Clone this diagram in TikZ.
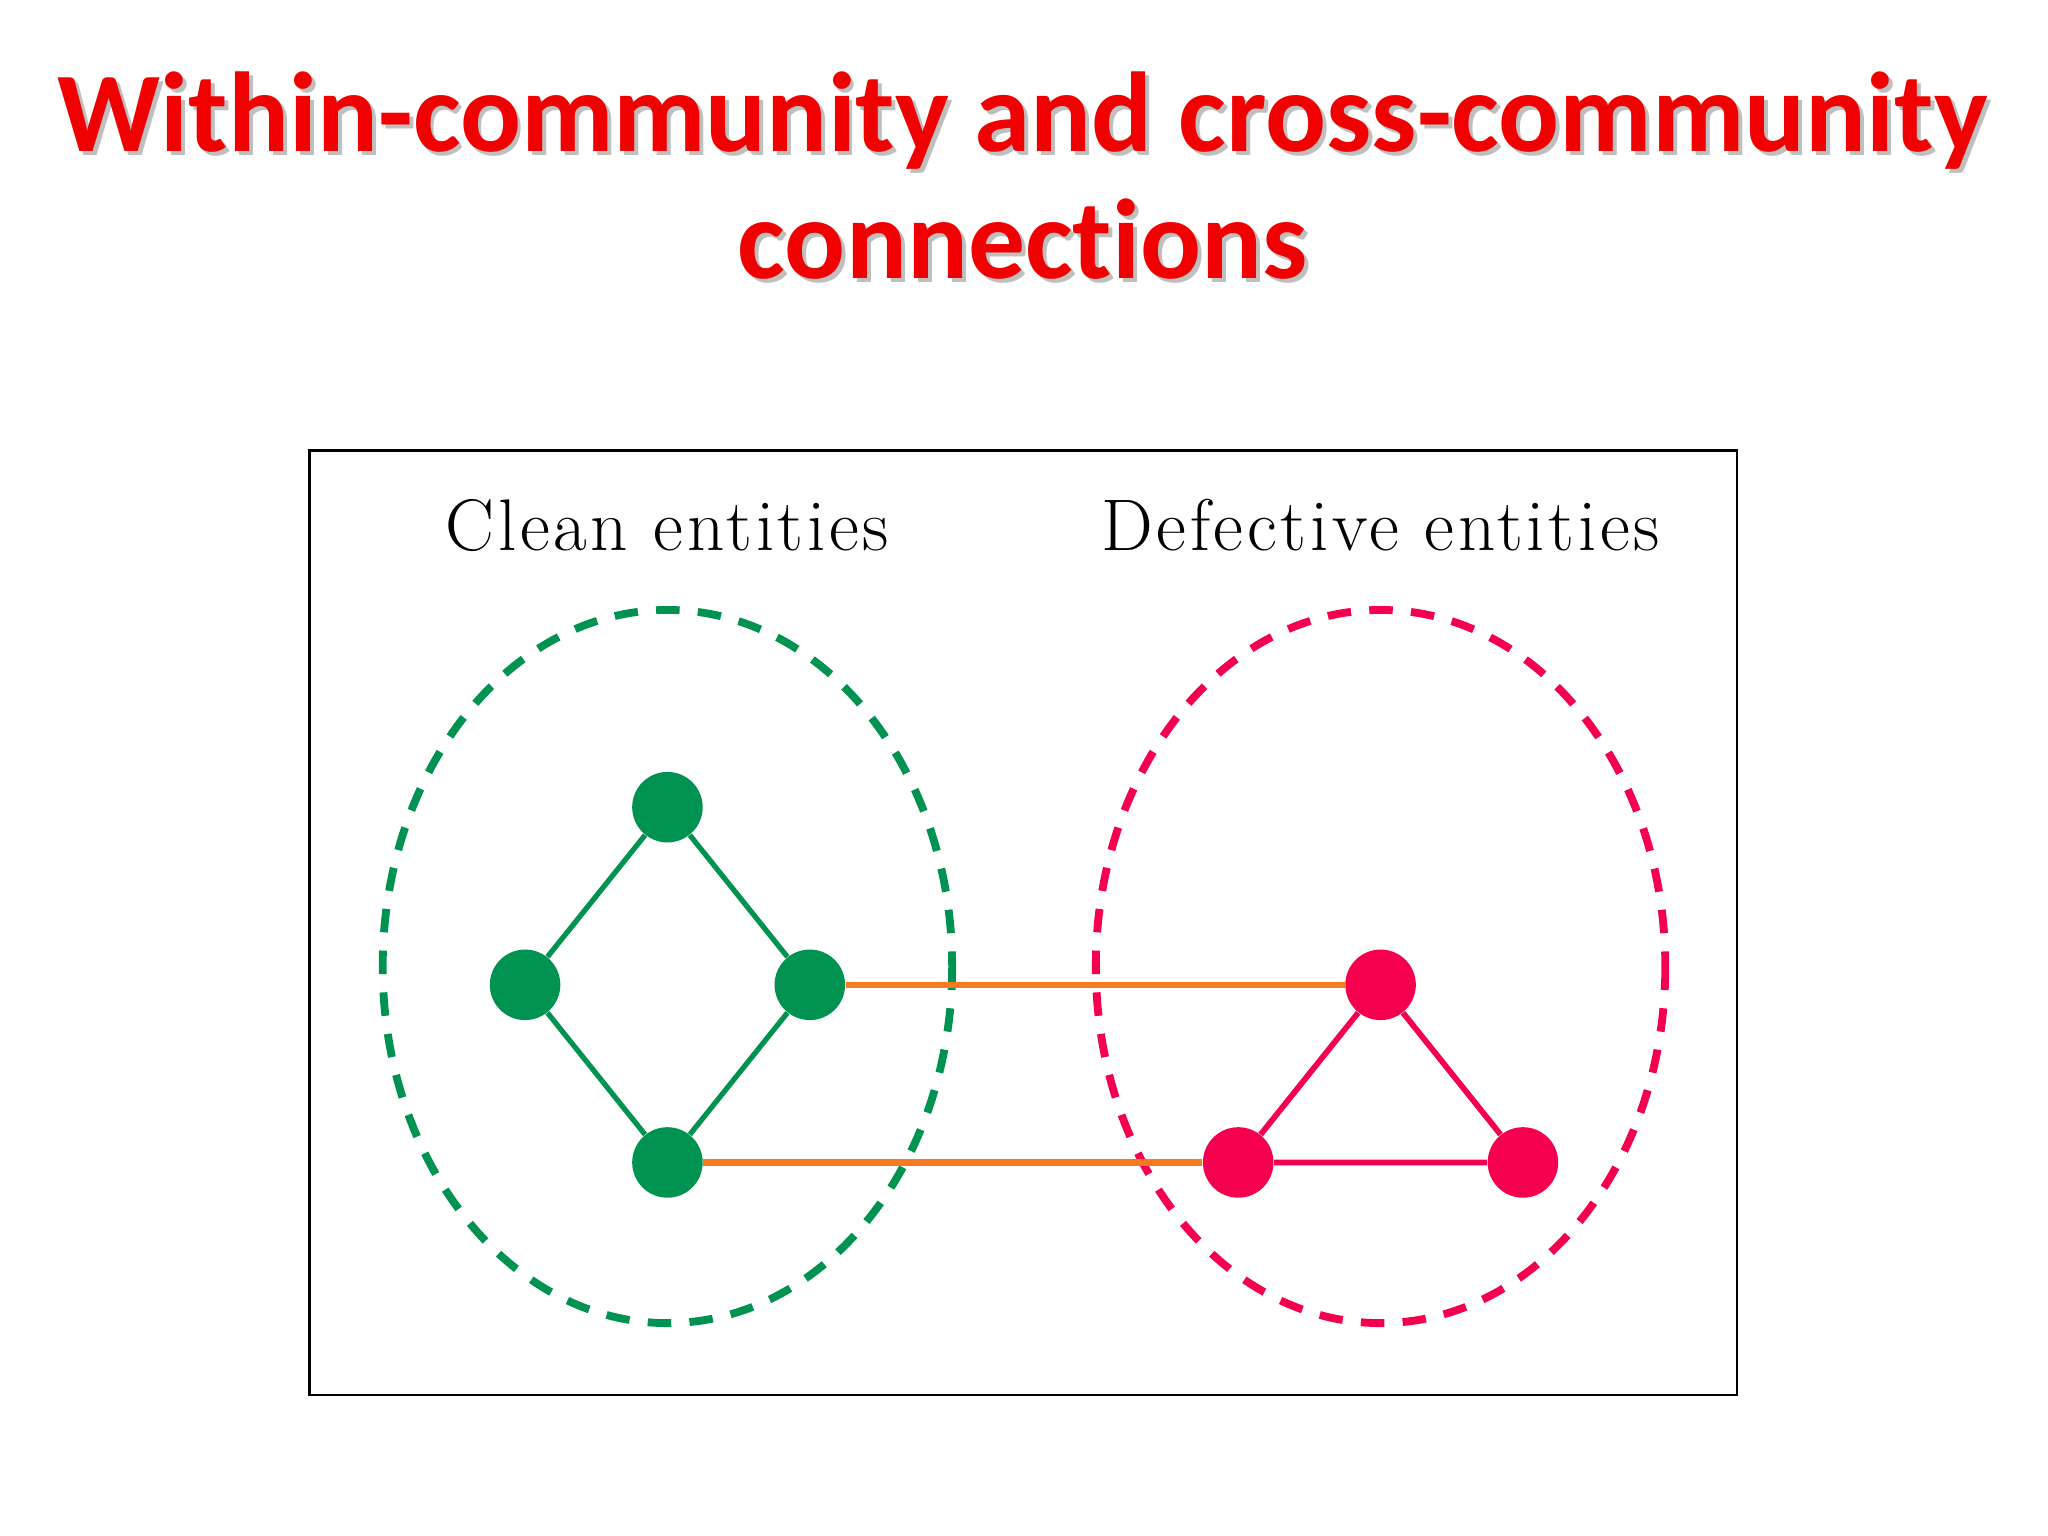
\documentclass[tikz,border=0pt]{standalone}
\usepackage{fontspec}
\newfontfamily\titlefont{Carlito}[Ligatures=NoCommon]
\newfontfamily\lblfont{Latin Modern Roman}[LetterSpace=5]
\definecolor{gr}{HTML}{009250}
\definecolor{rd}{HTML}{F5004F}
\definecolor{orng}{HTML}{F47B20}
\definecolor{ttl}{HTML}{F00000}
\begin{document}
\begin{tikzpicture}[x=0.5pt,y=-0.5pt,
  gnode/.style={circle,fill=gr,minimum size=27pt,inner sep=0pt},
  rnode/.style={circle,fill=rd,minimum size=27pt,inner sep=0pt},
  ttext/.style={font=\titlefont\bfseries\fontsize{43.5}{50}\selectfont},
  lbl/.style={font=\lblfont\fontsize{28}{32}\selectfont}]
\useasboundingbox (0,0) rectangle (1568,1176);
\foreach \t/\y in {{Within-community and cross-community}/92,{connections}/183}{
  \node[ttext,text=black!25] at (786,\y+3) {\t};
  \node[ttext,text=ttl] (t\y) at (783,\y) {\t};}
\draw[line width=1pt] (237,345) rectangle (1330,1068);
\node[lbl] (lc) at (511,402) {Clean entities};
\node[lbl] (ld) at (1057,402) {Defective entities};
\draw[gr,line width=3pt,dash pattern=on 9pt off 7pt] (511,740) ellipse [x radius=218,y radius=273];
\draw[rd,line width=3pt,dash pattern=on 9pt off 7pt] (1057,740) ellipse [x radius=218,y radius=273];
\node[gnode] (g1) at (511,618) {};
\node[gnode] (g2) at (402,754) {};
\node[gnode] (g3) at (620,754) {};
\node[gnode] (g4) at (511,890) {};
\node[rnode] (r1) at (1057,754) {};
\node[rnode] (r2) at (948,890) {};
\node[rnode] (r3) at (1166,890) {};
\draw[gr,line width=2pt] (g1)--(g2) (g2)--(g4) (g4)--(g3) (g3)--(g1);
\draw[rd,line width=2.2pt] (r1)--(r2) (r2)--(r3) (r3)--(r1);
\draw[orng,line width=2.5pt] (g3)--(r1) (g4)--(r2);
\end{tikzpicture}
\end{document}
